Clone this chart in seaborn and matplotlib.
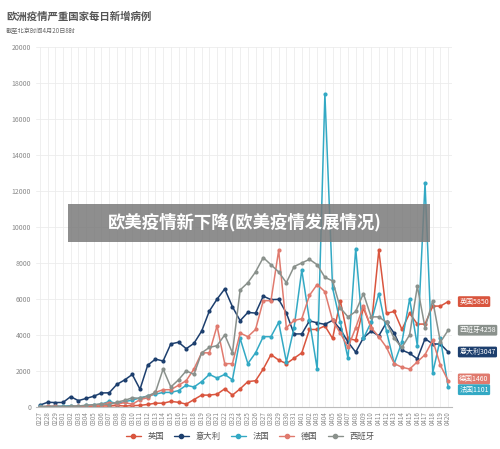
import numpy as np
import pandas as pd
import matplotlib
matplotlib.use("Agg")
import matplotlib.pyplot as plt
import seaborn as sns

dates = (["0227", "0228", "0229"] + [f"03{d:02d}" for d in range(1, 32)]
         + [f"04{d:02d}" for d in range(1, 21)])

uk = [0, 3, 2, 12, 4, 11, 34, 29, 48, 45, 69, 43, 62,
      80, 130, 200, 200, 300, 250, 150, 400, 650, 650, 700, 1000, 650, 1000, 1400,
      1450, 2100, 2900, 2600, 2400, 2700,
      3000, 4300, 4300, 4500, 3800, 5900, 3800, 3700, 5500, 4400, 8700, 5200, 5300,
      4300, 5200, 4600, 4600, 5600, 5600, 5850]
italy = [93, 250, 238, 240, 566, 342, 466, 587, 769, 778, 1247, 1492, 1797, 977, 2313,
         2651, 2547, 3497, 3590, 3233, 3526, 4207, 5322, 5986, 6557, 5560, 4789, 5249,
         5210, 6153, 5959, 5974, 5217, 4050, 4053, 4782, 4668, 4585, 4805, 4316, 3599,
         3039, 3836, 4204, 3951, 4694, 4092, 3153, 2972, 2667, 3786, 3493, 3491, 3047]
france = [20, 19, 43, 30, 61, 13, 81, 92, 150,
          296, 177, 286, 372, 497, 595, 700, 800, 800, 900, 1200, 1100, 1400, 1800,
          1600, 1800, 1500, 3800, 2400, 3000, 3900, 3900, 4700, 2500, 4400,
          7600, 4800, 2100, 17400, 6600, 4700, 2700, 8800, 3800, 4700, 6300, 4200,
          2400, 3600, 6000, 3400, 12450, 1900, 3800, 1101]
germany = [10, 27, 26, 0, 10, 34, 52, 48, 125, 238, 129, 241, 136,
           400, 500, 800, 950, 950, 1200, 1450, 2100, 3000, 3000, 4500, 2400, 2400,
           4100, 3900, 4300, 5900, 5900, 8700, 4400, 4800,
           4900, 6200, 6800, 6400, 4800, 4100, 3300, 4400, 5600, 4400, 3900, 3300,
           2400, 2200, 2100, 2500, 2900, 3700, 2300, 1460]
spain = [2, 6, 13, 15, 32, 45, 84, 120, 165, 124, 261, 356, 500, 470, 600, 800, 2100,
         1100, 1500, 2000, 1800, 3000, 3300, 3400, 4000, 3000, 6500, 6900, 7500, 8300,
         7900, 7500, 6900, 7800,
         8000, 8200, 7900, 7200, 7000, 5500, 5000, 5300, 6300, 5000, 5000, 4700, 3800,
         3300, 4000, 6700, 4400, 5900, 3600, 4258]

names = ["英国", "意大利", "法国", "德国", "西班牙"]
colors = ["#d9553e", "#1d3f6e", "#33a9c4", "#e07a6e", "#8a918c"]
series = [uk, italy, france, germany, spain]

rows = []
for n, s in zip(names, series):
    for i, v in enumerate(s):
        rows.append({"idx": i, "value": v, "country": n})
df = pd.DataFrame(rows)

sns.set_style("white")
plt.rcParams["font.family"] = ["Noto Sans CJK SC", "DejaVu Sans"]

fig = plt.figure(figsize=(5, 4.49), dpi=100)
ax = fig.add_axes([0.072, 0.094, 0.832, 0.801])
sns.lineplot(data=df, x="idx", y="value", hue="country", hue_order=names,
             palette=colors, marker="o", markersize=3, markeredgewidth=0,
             linewidth=1.1, ax=ax, legend=False)

ax.set_xlim(-0.5, len(dates) - 0.5)
ax.set_ylim(0, 20000)
ax.set_yticks(range(0, 20001, 2000))
ax.set_xticks(range(len(dates)))
ax.set_xticklabels(dates, rotation=90, fontsize=4.5, color="#888888")
ax.tick_params(axis="y", labelsize=5, colors="#888888", length=0)
ax.tick_params(axis="x", length=2, color="#cccccc", pad=1)
ax.grid(True, color="#ececec", linewidth=0.6)
ax.set_xlabel("")
ax.set_ylabel("")
for sp in ["top", "right", "left"]:
    ax.spines[sp].set_visible(False)
ax.spines["bottom"].set_color("#bbbbbb")

# end labels (label positions spread a little so they do not collide)
end_order = [0, 4, 1, 3, 2]
label_y = [5850, 4258, 3047, 1550, 950]
for k, yv in zip(end_order, label_y):
    ax.annotate(f"{names[k]}{series[k][-1]}", xy=(len(dates) - 1, yv),
                xytext=(8, 0), textcoords="offset points", va="center",
                ha="left", fontsize=5, color="white", annotation_clip=False,
                bbox=dict(boxstyle="round,pad=0.2", fc=colors[k], ec="none"))

fig.text(0.012, 0.975, "欧洲疫情严重国家每日新增病例", fontsize=7.5, fontweight="bold",
         color="#555555", va="top")
fig.text(0.012, 0.94, "截至北京时间4月20日8时", fontsize=4.5, color="#666666", va="top")

# legend
handles = [plt.Line2D([], [], color=c, marker="o", markersize=3, linewidth=1) for c in colors]
fig.legend(handles, names, loc="center", bbox_to_anchor=(0.5, 0.027), ncol=5,
           frameon=False, fontsize=6, handlelength=1.8, columnspacing=1.2,
           labelcolor="#555555")

# watermark banner
fig.patches.append(matplotlib.patches.Rectangle((0.136, 0.462), 0.724, 0.083,
                   transform=fig.transFigure, facecolor="#7a7a7a", alpha=0.85,
                   edgecolor="none", zorder=5))
fig.text(0.49, 0.505, "欧美疫情新下降(欧美疫情发展情况)", fontsize=12.5,
         fontweight="bold", color="white", ha="center", va="center", zorder=6)

fig.savefig("out.png", dpi=100)
